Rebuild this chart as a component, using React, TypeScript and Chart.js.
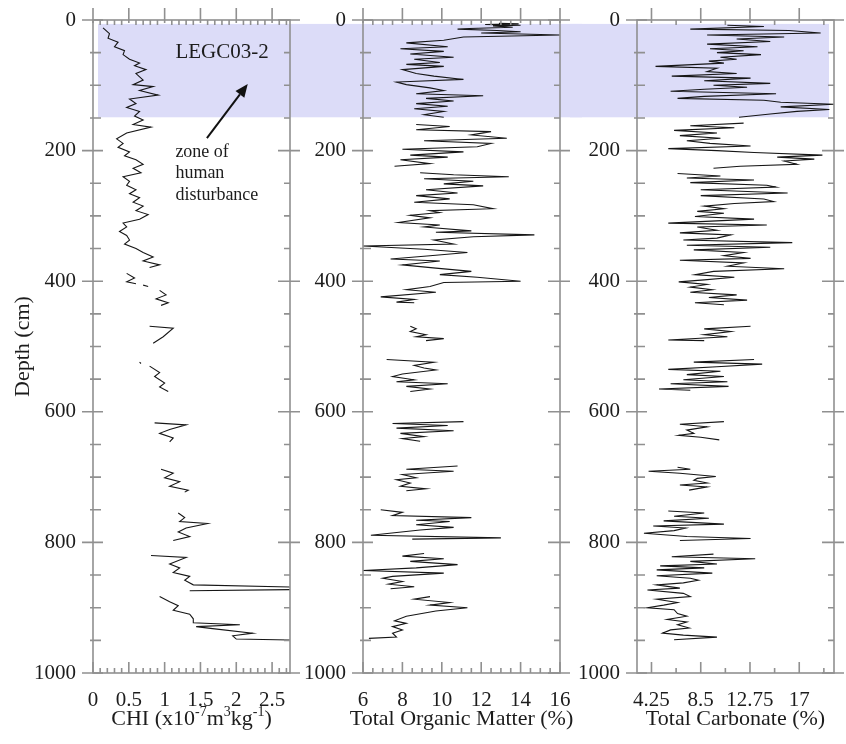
import { useEffect, useRef } from "react";
import { Chart, registerables } from "chart.js";

Chart.register(...registerables);

const FONT = "'Liberation Serif', 'Times New Roman', serif";
const TEXT = "#1c1c1c";
const AXIS = "#909090";
const SHADE = "#dcdcf8";
const LINE = "#161616";

// depth axis
const depthTicks = [0, 200, 400, 600, 800, 1000];
const depthTickLabels = ["0", "200", "400", "600", "800", "1000"];
const depthMinorStep = 50;
const shadeTop = 6;
const shadeBottom = 149;

// CHI panel
const chiTicks = [0, 0.5, 1, 1.5, 2, 2.5];
const chiTickLabels = ["0", "0.5", "1", "1.5", "2", "2.5"];
const chiTitle = [
  { t: "CHI (x10" },
  { t: "-7", sup: true },
  { t: "m" },
  { t: "3", sup: true },
  { t: "kg" },
  { t: "-1", sup: true },
  { t: ")" },
];
const chiDepth = [
  12, 21, 28, 34, 41, 47, 53, 60, 66, 70, 76, 82, 92, 99, 102, 108, 115, 121, 128, 134, 140, 147, 153, 160, 164,
  173, 182, 189, 195, 202, 208, 214, 221, 227, 234, 240, 247, 253, 260, 266, 272, 279, 285, 292, 298, 305, 311,
  317, 324, 330, 337, 343, 350, 356, 363, 369, 375, 379, 383, 388, 395, 401, 404, 405, 406, 408, 411, 414, 421,
  427, 433, 437, 450, 469, 472, 485, 495, 510, 524, 526, 528, 530, 540, 546, 556, 562, 569, 590, 617, 620, 627,
  633, 640, 646, 670, 688, 694, 701, 707, 714, 720, 723, 740, 755, 762, 768, 771, 778, 784, 791, 797, 810, 820,
  823, 833, 839, 846, 852, 858, 865, 869, 872, 874, 878, 883, 891, 897, 904, 910, 917, 923, 926, 929, 932, 939,
  943, 948, 950,
];
const chiValue = [
  0.14, 0.23, 0.21, 0.35, 0.3, 0.44, 0.42, 0.51, 0.65, 0.58, 0.74, 0.6, 0.7, 0.56, 0.84, 0.65, 0.91, 0.51, 0.6,
  0.47, 0.65, 0.58, 0.7, 0.56, 0.81, 0.47, 0.33, 0.42, 0.35, 0.51, 0.44, 0.6, 0.7, 0.56, 0.67, 0.42, 0.51, 0.47,
  0.6, 0.51, 0.65, 0.56, 0.7, 0.6, 0.77, 0.65, 0.42, 0.47, 0.37, 0.47, 0.51, 0.44, 0.6, 0.7, 0.84, 0.7, 0.93,
  0.79, null, 0.47, 0.58, 0.47, 0.6, null, 0.7, 0.77, null, 0.93, 1.02, 0.88, 1.05, 0.95, null, 0.79, 1.12, 0.98,
  0.84, null, 0.65, 0.67, null, 0.79, 0.93, 0.86, 1.0, 0.93, 1.05, null, 0.86, 1.3, 1.07, 0.93, 1.12, 1.07, null,
  0.95, 1.12, 1.0, 1.21, 1.07, 1.33, 1.28, null, 1.19, 1.28, 1.21, 1.6, 1.3, 1.19, 1.35, 1.12, null, 0.81, 1.3,
  1.07, 1.21, 1.12, 1.35, 1.28, 1.4, 3.0, 3.0, 1.35, null, 0.93, 1.07, 1.19, 1.12, 1.35, 1.4, 1.4, 2.05, 1.44,
  1.67, 2.23, 1.95, 2.0, 3.0,
];

// Total organic matter panel
const tomTicks = [6, 8, 10, 12, 14, 16];
const tomTickLabels = ["6", "8", "10", "12", "14", "16"];
const tomTitle = [{ t: "Total Organic Matter (%)" }];
const tomDepth = [
  5, 6, 7, 8, 9, 11, 13, 14, 16, 18, 20, 23, 26, 31, 35, 41, 44, 48, 52, 57, 60, 65, 68, 71, 76, 82, 86, 91, 95,
  99, 104, 108, 113, 116, 120, 124, 128, 132, 136, 140, 145, 149, 153, 160, 163, 168, 171, 176, 181, 185, 189,
  194, 198, 202, 207, 210, 214, 220, 224, 229, 234, 237, 240, 243, 247, 251, 254, 260, 265, 269, 274, 279, 283,
  289, 292, 295, 299, 303, 310, 314, 317, 323, 325, 329, 332, 337, 343, 346, 348, 351, 356, 361, 366, 369, 375,
  380, 385, 390, 394, 400, 402, 408, 413, 417, 424, 428, 432, 433, 450, 469, 473, 477, 482, 485, 488, 491, 505,
  520, 524, 529, 533, 536, 542, 546, 551, 554, 557, 561, 565, 569, 590, 615, 618, 621, 625, 629, 633, 638, 641,
  645, 665, 683, 688, 691, 696, 701, 704, 709, 714, 718, 721, 735, 750, 754, 759, 762, 766, 768, 773, 777, 781,
  789, 793, 795, 805, 817, 821, 825, 829, 834, 839, 843, 847, 852, 855, 860, 864, 868, 871, 877, 883, 887, 892,
  896, 900, 905, 913, 920, 924, 929, 934, 939, 945, 947,
];
const tomValue = [
  12.9, 13.9, 12.2, 14.0, 12.6, 13.6, 11.4, 10.8, 12.8, 14.0, 12.0, 16.0, 11.1, 10.1, 8.2, 10.3, 7.9, 10.1, 8.4,
  10.6, 8.6, 9.9, 8.2, 10.1, 8.0, 8.7, 9.6, 11.1, 7.7, 8.2, 9.4, 10.1, 8.7, 12.1, 9.2, 10.6, 8.7, 10.3, 8.6, 10.1,
  9.1, 10.1, null, 8.7, 10.4, 8.7, 12.5, 11.5, 13.3, 9.1, 12.5, 11.8, 8.0, 11.1, 8.4, 10.3, 7.9, 9.4, 7.6, null,
  8.9, 10.6, 13.4, 9.1, 11.6, 10.1, 12.1, 9.2, 10.8, 8.7, 10.4, 8.6, 11.6, 12.6, 9.4, 9.9, 8.4, 9.4, 7.8, 9.9,
  9.1, 11.5, 9.7, 14.7, 11.6, 9.6, 10.6, 6.0, 7.2, 9.1, 11.3, 9.4, 7.4, 9.9, 8.0, 9.7, 11.5, 9.9, 11.8, 14.0,
  10.1, 9.4, 8.2, 9.7, 6.9, 8.6, 7.7, 8.6, null, 8.4, 8.7, 8.4, 9.2, 8.7, 10.1, 9.2, null, 7.2, 9.6, 8.6, 9.1,
  9.7, 8.0, 7.5, 8.6, 7.7, 10.3, 8.2, 9.4, 8.4, null, 11.1, 7.5, 10.3, 7.7, 10.6, 7.9, 9.1, 8.0, 8.9, null, 10.8,
  8.2, 10.6, 8.0, 8.7, 7.7, 8.4, 7.9, 9.2, 8.2, null, 6.9, 8.0, 7.5, 11.5, 8.7, 10.4, 8.7, 10.6, 8.9, 6.4, 13.0,
  8.5, null, 9.1, 8.0, 10.1, 8.4, 10.8, 8.7, 6.0, 10.1, 7.5, 7.0, 8.0, 7.3, 8.6, 7.4, null, 9.4, 8.6, 10.4, 9.4,
  11.3, 9.7, 8.2, 7.6, 8.2, 7.5, 8.0, 7.5, 7.7, 6.3,
];

// Total carbonate panel
const carbTicks = [4.25, 8.5, 12.75, 17];
const carbTickLabels = ["4.25", "8.5", "12.75", "17"];
const carbTitle = [{ t: "Total Carbonate (%)" }];
const carbDepth = [
  8, 10, 14, 16, 20, 23, 26, 29, 33, 37, 41, 44, 47, 50, 53, 57, 60, 63, 66, 71, 74, 79, 82, 86, 89, 93, 97, 100,
  103, 106, 109, 113, 117, 120, 123, 126, 129, 133, 137, 140, 144, 149, 153, 158, 162, 165, 169, 173, 177, 181,
  185, 189, 193, 197, 200, 203, 207, 210, 213, 216, 221, 224, 227, 231, 235, 239, 242, 245, 249, 253, 256, 260,
  265, 269, 274, 278, 281, 285, 289, 293, 296, 301, 305, 311, 314, 317, 322, 326, 329, 334, 337, 341, 345, 348,
  352, 356, 361, 365, 368, 372, 377, 381, 385, 390, 394, 398, 401, 405, 409, 413, 417, 421, 425, 429, 433, 436,
  450, 469, 473, 477, 482, 485, 490, 491, 505, 520, 524, 527, 531, 535, 538, 543, 546, 551, 554, 557, 561, 565,
  567, 590, 615, 619, 623, 628, 633, 636, 639, 643, 665, 685, 688, 691, 694, 699, 702, 705, 709, 712, 715, 720,
  735, 752, 755, 760, 763, 767, 772, 775, 778, 782, 786, 791, 794, 797, 808, 818, 822, 825, 829, 833, 836, 839,
  842, 847, 851, 855, 858, 862, 865, 870, 873, 878, 883, 887, 892, 896, 900, 903, 909, 913, 918, 922, 926, 931,
  934, 939, 942, 945, 949,
];
const carbValue = [
  10.8, 13.95, 7.6, 16.1, 18.85, 9.05, 15.7, 11.6, 14.5, 9.05, 13.4, 9.3, 12.2, 9.9, 13.7, 10.2, 11.6, 9.2, 10.5,
  4.6, 9.9, 9.05, 11.6, 6.0, 12.8, 8.8, 14.5, 9.6, 12.5, 8.8, 5.9, 15.0, 8.8, 6.5, 13.95, 15.4, 20.0, 15.4, 19.6,
  16.8, 14.5, 11.8, null, 12.2, 7.6, 11.4, 6.2, 9.9, 6.7, 10.2, 7.3, 9.3, 12.8, 5.7, 9.9, 13.1, 19.0, 15.1, 18.3,
  15.7, 16.8, 11.9, 9.6, null, 6.5, 10.2, 7.3, 13.1, 7.6, 14.2, 15.0, 8.5, 16.0, 8.5, 13.95, 14.8, 11.4, 8.8,
  10.5, 8.2, 10.5, 8.0, 13.1, 5.7, 14.2, 8.2, 9.9, 6.7, 11.1, 9.9, 7.0, 16.4, 7.3, 14.5, 7.9, 12.2, 10.5, 12.8,
  6.7, 12.2, 10.8, 15.7, 9.6, 8.0, 11.4, 8.8, 6.6, 9.05, 7.6, 9.5, 7.6, 11.6, 9.2, 12.5, 8.0, 10.5, null, 12.8,
  8.8, 11.1, 8.8, 10.8, 5.7, 8.8, null, 13.1, 7.9, 13.8, 9.9, 5.7, 10.2, 7.3, 10.5, 7.0, 10.8, 5.9, 10.9, 4.9,
  7.6, null, 10.5, 6.7, 9.05, 7.3, 7.9, 6.6, 8.5, 10.1, null, 6.5, 7.6, 4.0, 6.7, 9.8, 8.2, 7.9, 9.05, 6.7, 9.05,
  7.5, null, 5.7, 8.8, 6.2, 9.2, 5.3, 10.5, 4.4, 7.2, 6.2, 3.6, 7.3, 12.8, 6.7, null, 9.6, 6.0, 13.2, 7.6, 9.9,
  5.0, 8.8, 4.7, 9.5, 4.7, 7.6, 8.3, 7.0, 4.7, 6.7, 3.9, 7.0, 7.6, 4.7, 6.5, 5.3, 3.9, 6.2, 6.5, 7.3, 5.6, 7.3,
  6.5, 7.5, 5.9, 5.2, 7.0, 9.9, 6.2,
];

// annotation (in data units of the CHI panel)
const coreLabel = "LEGC03-2";
const zoneLines = ["zone of", "human", "disturbance"];
const zoneLineDepths = [202, 234, 268];

type TitlePart = { t: string; sup?: boolean };

type PanelProps = {
  left: number;
  width: number;
  axisWidth: number;
  padRight: number;
  depth: number[];
  values: (number | null)[];
  xMin: number;
  xMax: number;
  xTicks: number[];
  xTickLabels: string[];
  xMinorStep: number;
  xTitle: TitlePart[];
  yTitle: boolean;
  shadeMode: "first" | "mid" | "last";
  annotate?: boolean;
};

function zeroPad(s: any) {
  s.paddingTop = 0;
  s.paddingBottom = 0;
  s.paddingLeft = 0;
  s.paddingRight = 0;
}

function Panel(p: PanelProps) {
  const ref = useRef<HTMLCanvasElement | null>(null);
  useEffect(() => {
    if (!ref.current) return;
    const font = { family: FONT, size: 21 };
    const titleFont = { family: FONT, size: 22 };
    const shadePlugin = {
      id: "shade",
      beforeDraw(chart: any) {
        const { ctx, chartArea: a, scales } = chart;
        const y = scales.y;
        const t = y.getPixelForValue(shadeTop);
        const b = y.getPixelForValue(shadeBottom);
        let x0 = 0;
        let x1 = chart.width;
        if (p.shadeMode === "first") x0 = a.left + 5;
        if (p.shadeMode === "last") x1 = a.right - 5;
        ctx.save();
        ctx.fillStyle = SHADE;
        ctx.fillRect(x0, t, x1 - x0, b - t);
        ctx.restore();
      },
    };
    const framePlugin = {
      id: "frame",
      afterDatasetsDraw(chart: any) {
        const { ctx, chartArea: a, scales } = chart;
        const x = scales.x;
        const y = scales.y;
        ctx.save();
        ctx.strokeStyle = AXIS;
        ctx.lineWidth = 1.6;
        ctx.strokeRect(a.left, a.top, a.right - a.left, a.bottom - a.top);
        ctx.beginPath();
        for (const v of depthTicks) {
          const py = y.getPixelForValue(v);
          ctx.moveTo(a.left - 11, py);
          ctx.lineTo(a.left + 10, py);
          ctx.moveTo(a.right - 12, py);
          ctx.lineTo(a.right + 10, py);
        }
        for (let v = depthMinorStep; v < 1000; v += depthMinorStep) {
          if (depthTicks.includes(v)) continue;
          const py = y.getPixelForValue(v);
          ctx.moveTo(a.left - 3, py);
          ctx.lineTo(a.left + 8, py);
          ctx.moveTo(a.right - 6, py);
          ctx.lineTo(a.right, py);
        }
        for (const v of p.xTicks) {
          const px = x.getPixelForValue(v);
          ctx.moveTo(px, a.bottom - 11);
          ctx.lineTo(px, a.bottom);
          ctx.moveTo(px, a.top - 12);
          ctx.lineTo(px, a.top + 3);
        }
        const kStart = Math.ceil(p.xMin / p.xMinorStep - 1e-6);
        for (let k = kStart; k * p.xMinorStep <= p.xMax + 1e-6; k++) {
          const v = k * p.xMinorStep;
          if (p.xTicks.some((m) => Math.abs(m - v) < 1e-6)) continue;
          if (v <= p.xMin + 1e-6) continue;
          const px = x.getPixelForValue(v);
          ctx.moveTo(px, a.bottom - 5);
          ctx.lineTo(px, a.bottom);
          ctx.moveTo(px, a.top);
          ctx.lineTo(px, a.top + 5);
        }
        ctx.stroke();
        ctx.restore();

        // x-axis title (drawn without width compression, with real superscripts)
        ctx.save();
        ctx.fillStyle = TEXT;
        ctx.textBaseline = "alphabetic";
        ctx.textAlign = "left";
        const mainFont = `22px ${FONT}`;
        const supFont = `14px ${FONT}`;
        let total = 0;
        for (const part of p.xTitle) {
          ctx.font = part.sup ? supFont : mainFont;
          total += ctx.measureText(part.t).width;
        }
        let cx = (a.left + a.right) / 2 - total / 2;
        const baseY = a.bottom + 52;
        for (const part of p.xTitle) {
          ctx.font = part.sup ? supFont : mainFont;
          ctx.fillText(part.t, cx, part.sup ? baseY - 9 : baseY);
          cx += ctx.measureText(part.t).width;
        }
        ctx.restore();

        if (p.annotate) {
          ctx.save();
          ctx.fillStyle = TEXT;
          ctx.textAlign = "left";
          ctx.textBaseline = "middle";
          ctx.font = `21px ${FONT}`;
          ctx.fillText(coreLabel, x.getPixelForValue(1.15), y.getPixelForValue(49));
          ctx.font = `18px ${FONT}`;
          zoneLines.forEach((s, i) => {
            ctx.fillText(s, x.getPixelForValue(1.15), y.getPixelForValue(zoneLineDepths[i]));
          });
          const x0 = x.getPixelForValue(1.59);
          const y0 = y.getPixelForValue(181);
          const x1 = x.getPixelForValue(2.16);
          const y1 = y.getPixelForValue(98);
          const ang = Math.atan2(y1 - y0, x1 - x0);
          const hl = 13;
          const hw = 5.5;
          const bx = x1 - hl * Math.cos(ang);
          const by = y1 - hl * Math.sin(ang);
          ctx.strokeStyle = "#111";
          ctx.lineWidth = 2;
          ctx.beginPath();
          ctx.moveTo(x0, y0);
          ctx.lineTo(bx, by);
          ctx.stroke();
          ctx.fillStyle = "#111";
          ctx.beginPath();
          ctx.moveTo(x1, y1);
          ctx.lineTo(bx + hw * Math.sin(ang), by - hw * Math.cos(ang));
          ctx.lineTo(bx - hw * Math.sin(ang), by + hw * Math.cos(ang));
          ctx.closePath();
          ctx.fill();
          ctx.restore();
        }
      },
    };

    const data = p.depth.map((d, i) => ({ x: p.values[i] === null ? NaN : (p.values[i] as number), y: d }));

    const chart = new Chart(ref.current, {
      type: "scatter",
      data: {
        datasets: [
          {
            data,
            showLine: true,
            borderColor: LINE,
            borderWidth: 1.1,
            pointRadius: 0,
            pointHoverRadius: 0,
            spanGaps: false,
            clip: 0,
          } as any,
        ],
      },
      options: {
        responsive: false,
        animation: false,
        events: [],
        layout: { padding: { top: 20, right: p.padRight, left: 0, bottom: 0 } },
        plugins: { legend: { display: false }, tooltip: { enabled: false } },
        scales: {
          x: {
            type: "linear",
            position: "bottom",
            min: p.xMin,
            max: p.xMax,
            afterBuildTicks: (s: any) => {
              s.ticks = p.xTicks.map((v) => ({ value: v }));
            },
            ticks: {
              font,
              color: TEXT,
              padding: 15,
              autoSkip: false,
              maxRotation: 0,
              minRotation: 0,
              callback: (_v: any, i: number) => p.xTickLabels[i],
            },
            grid: { display: false, drawTicks: false },
            border: { display: false },
            title: { display: false },
            afterFit: (s: any) => {
              s.height = 71;
              zeroPad(s);
            },
          },
          y: {
            type: "linear",
            reverse: true,
            min: 0,
            max: 1000,
            afterBuildTicks: (s: any) => {
              s.ticks = depthTicks.map((v) => ({ value: v }));
            },
            ticks: {
              font,
              color: TEXT,
              padding: 17,
              autoSkip: false,
              callback: (_v: any, i: number) => depthTickLabels[i],
            },
            grid: { display: false, drawTicks: false },
            border: { display: false },
            title: {
              display: p.yTitle,
              text: "Depth (cm)",
              font: titleFont,
              color: TEXT,
              padding: { top: 10, bottom: 0 },
            },
            afterFit: (s: any) => {
              s.width = p.axisWidth;
              zeroPad(s);
            },
          },
        },
      } as any,
      plugins: [shadePlugin, framePlugin],
    });
    return () => chart.destroy();
  }, []);
  return (
    <canvas
      ref={ref}
      width={p.width}
      height={744}
      style={{ position: "absolute", left: p.left, top: 0, width: p.width, height: 744 }}
    />
  );
}

export default function App() {
  return (
    <div style={{ position: "absolute", left: 0, top: 0, width: 846, height: 744, background: "#fff", overflow: "hidden" }}>
      <Panel
        left={0}
        width={300}
        axisWidth={93}
        padRight={10}
        depth={chiDepth}
        values={chiValue}
        xMin={0}
        xMax={2.75}
        xTicks={chiTicks}
        xTickLabels={chiTickLabels}
        xMinorStep={0.1}
        xTitle={chiTitle}
        yTitle={true}
        shadeMode="first"
        annotate={true}
      />
      <Panel
        left={300}
        width={282}
        axisWidth={63}
        padRight={22}
        depth={tomDepth}
        values={tomValue}
        xMin={6}
        xMax={16}
        xTicks={tomTicks}
        xTickLabels={tomTickLabels}
        xMinorStep={0.5}
        xTitle={tomTitle}
        yTitle={false}
        shadeMode="mid"
      />
      <Panel
        left={570}
        width={276}
        axisWidth={67}
        padRight={12}
        depth={carbDepth}
        values={carbValue}
        xMin={3}
        xMax={20}
        xTicks={carbTicks}
        xTickLabels={carbTickLabels}
        xMinorStep={2.125}
        xTitle={carbTitle}
        yTitle={false}
        shadeMode="last"
      />
    </div>
  );
}
